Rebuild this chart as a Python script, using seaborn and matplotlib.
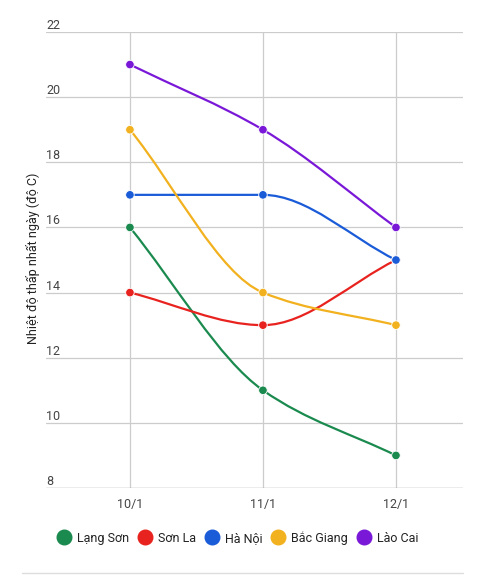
import numpy as np
import pandas as pd
import seaborn as sns
import matplotlib.pyplot as plt
from matplotlib.path import Path
from matplotlib.patches import PathPatch
from matplotlib.lines import Line2D

# data
days = ["10/1", "11/1", "12/1"]
lang_son = [16, 11, 9]
son_la = [14, 13, 15]
ha_noi = [17, 17, 15]
bac_giang = [19, 14, 13]
lao_cai = [21, 19, 16]

series = ["Lạng Sơn", "Sơn La", "Hà Nội", "Bắc Giang", "Lào Cai"]
values = [lang_son, son_la, ha_noi, bac_giang, lao_cai]
colors = ["#1b8a4f", "#e8231f", "#1a5bd8", "#f2b11e", "#7a18d8"]
yticks = [8, 10, 12, 14, 16, 18, 20, 22]

rows = []
for name, vals in zip(series, values):
    for i, v in enumerate(vals):
        rows.append({"day": i, "label": days[i], "temp": v, "city": name})
df = pd.DataFrame(rows)

sns.set_style("white")
plt.rcParams["font.family"] = ["Roboto", "DejaVu Sans"]

fig = plt.figure(figsize=(4.85, 5.79), dpi=100)
ax = fig.add_axes([46 / 485, 1 - 488 / 579, 417 / 485, 456 / 579])


def smooth_path(xs, ys):
    # monotone cubic tangents -> bezier segments
    xs = np.asarray(xs, float)
    ys = np.asarray(ys, float)
    m = np.diff(ys) / np.diff(xs)
    d = np.zeros(len(ys))
    d[0], d[-1] = m[0], m[-1]
    for i in range(1, len(ys) - 1):
        if m[i - 1] * m[i] > 0:
            d[i] = 2 / (1 / m[i - 1] + 1 / m[i])
    verts = [(xs[0], ys[0])]
    codes = [Path.MOVETO]
    for i in range(len(xs) - 1):
        h = xs[i + 1] - xs[i]
        verts += [(xs[i] + h / 3, ys[i] + d[i] * h / 3),
                  (xs[i + 1] - h / 3, ys[i + 1] - d[i + 1] * h / 3),
                  (xs[i + 1], ys[i + 1])]
        codes += [Path.CURVE4] * 3
    return Path(verts, codes)


for name, col in zip(series, colors):
    sub = df[df["city"] == name]
    ax.add_patch(PathPatch(smooth_path(sub["day"], sub["temp"]), facecolor="none",
                           edgecolor=col, lw=1.6, zorder=3, capstyle="round"))

sns.scatterplot(data=df, x="day", y="temp", hue="city", palette=colors,
                hue_order=series, s=38, edgecolor="white", linewidth=0.6,
                legend=False, zorder=4, ax=ax)

ax.set_xlim(-0.631, 2.504)
ax.set_ylim(8, 22)
ax.set_yticks(yticks)
ax.set_xticks(range(len(days)))
ax.set_xticklabels(days, fontsize=9, color="#444444")
ax.tick_params(axis="x", length=0, pad=7)
ax.tick_params(axis="y", length=0, labelleft=False)
ax.grid(True, color="#cccccc", lw=0.9)
ax.set_axisbelow(True)
for s in ax.spines.values():
    s.set_visible(False)
ax.axhline(8, color="#999999", lw=0.9, zorder=2)
ax.set_xlabel("")
ax.set_ylabel("")

for t in yticks:
    ax.text(0.0, t, str(t), transform=ax.get_yaxis_transform(),
            ha="left", va="bottom", fontsize=9, color="#444444")

fig.text(33 / 485, 1 - 258 / 579, "Nhiệt độ thấp nhất ngày (độ C)", rotation=90,
         ha="center", va="center", fontsize=9, color="#222222")

handles = [Line2D([0], [0], marker="o", ls="none", markersize=10.5,
                  markerfacecolor=c, markeredgecolor=c) for c in colors]
fig.legend(handles, series, loc="center", bbox_to_anchor=(238 / 485, 1 - 538 / 579),
           ncol=5, frameon=False, fontsize=9, handletextpad=0.55, columnspacing=0.75,
           handlelength=1.0, labelcolor="#222222")

fig.add_artist(Line2D([22 / 485, 463 / 485], [1 - 573 / 579] * 2, color="#dddddd", lw=1))

plt.savefig("out.png", dpi=100)
